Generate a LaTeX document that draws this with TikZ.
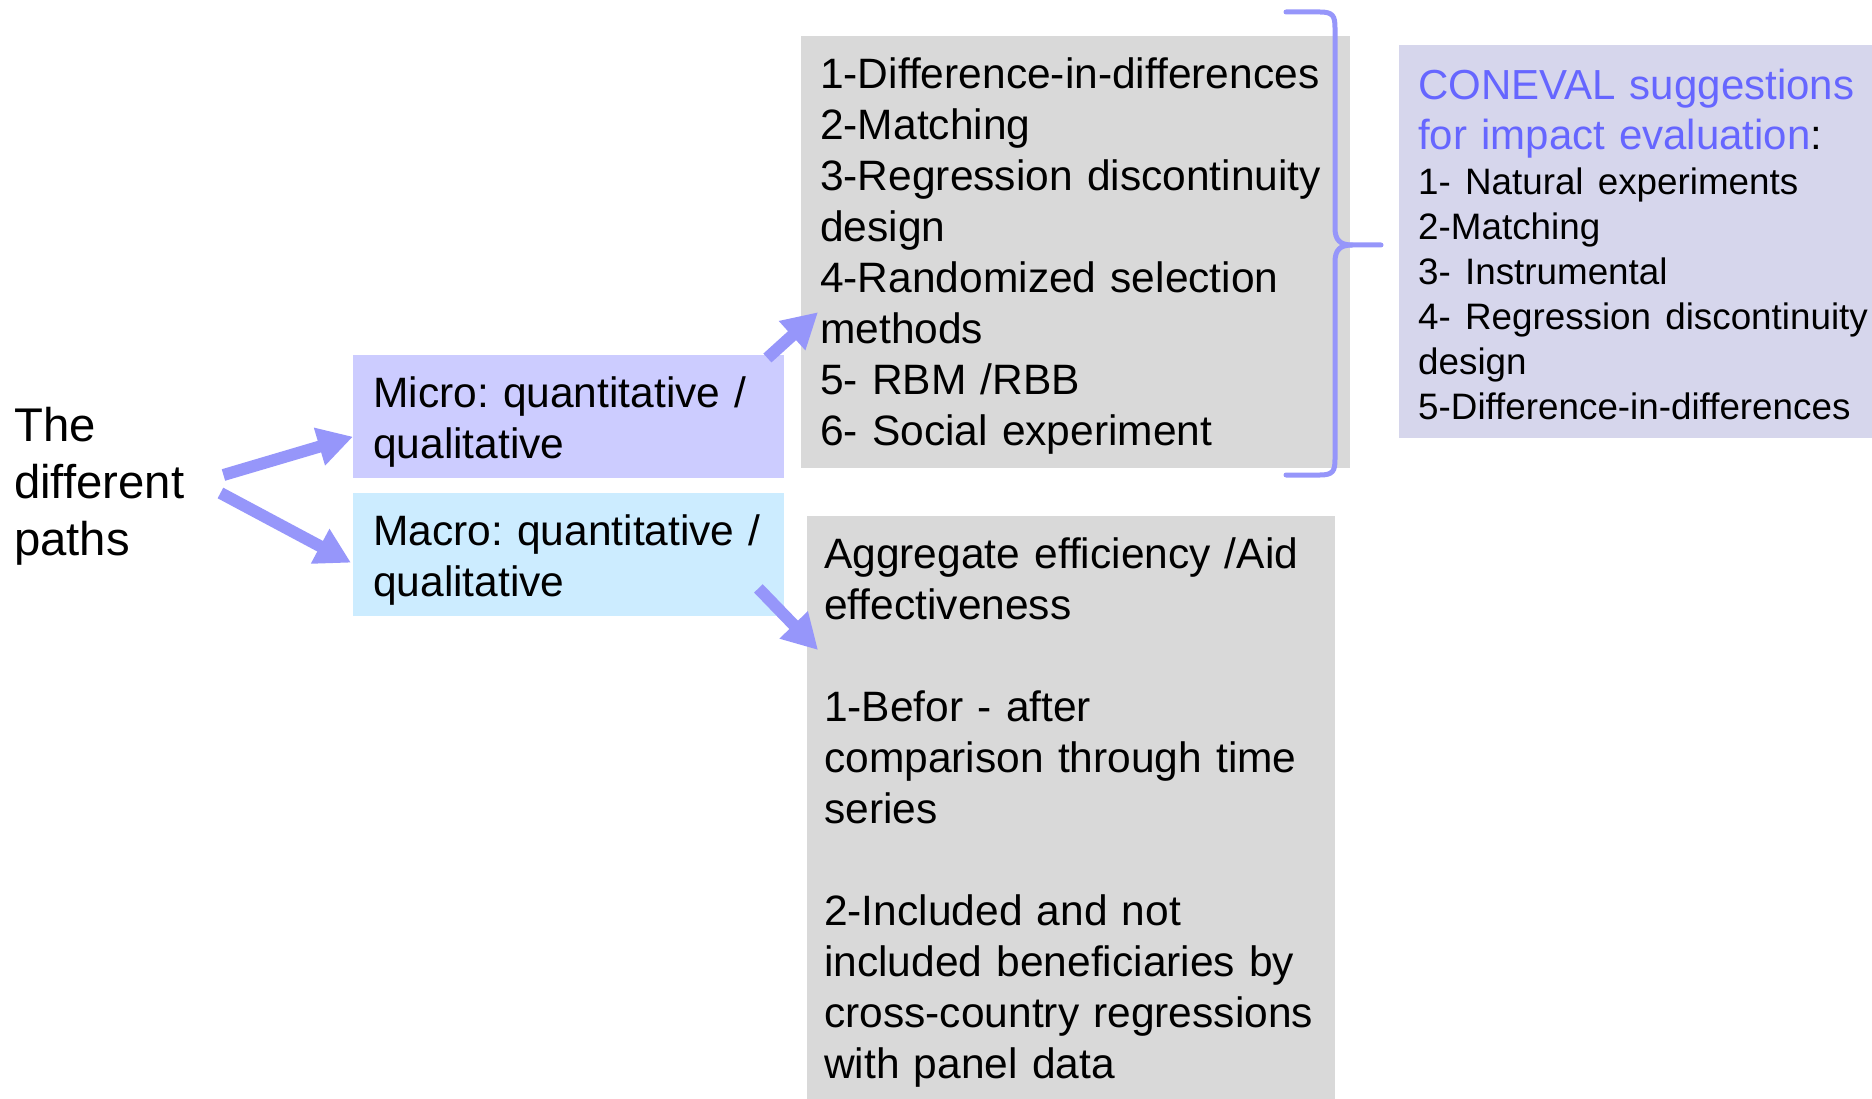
\documentclass[tikz,border=0pt]{standalone}
\usepackage{fontspec}
\setmainfont{Liberation Sans}
\frenchspacing
\usetikzlibrary{arrows.meta,calc}
\definecolor{microfill}{RGB}{204,204,255}
\definecolor{macrofill}{RGB}{204,236,255}
\definecolor{boxgray}{RGB}{217,217,217}
\definecolor{conevalfill}{RGB}{214,214,236}
\definecolor{pathblue}{RGB}{150,150,250}
\definecolor{headblue}{RGB}{102,102,255}
\begin{document}
\begin{tikzpicture}[x=1pt,y=-1pt,
    box/.style={anchor=north west, align=left, inner ysep=0pt,
      text height=52pt, font=\fontsize{42.5}{51}\selectfont},
    fatarrow/.style={draw=pathblue, line width=12pt,
      -{Triangle[length=35pt,width=37pt]}}]
  \useasboundingbox (0,0) rectangle (1872,1099);
  \draw
    (14,486) node[anchor=west, align=left, inner sep=0pt,
      font=\fontsize{47.3}{57}\selectfont] (paths) {The\\different\\paths}
    (353,355) node[box, fill=microfill, text width=391pt, inner xsep=20pt,
      text depth=71pt] (micro) {Micro: quantitative /\\qualitative}
    (353,493) node[box, fill=macrofill, text width=391pt, inner xsep=20pt,
      text depth=71pt] (macro) {Macro: quantitative /\\qualitative}
    (801,36) node[box, fill=boxgray, text width=511pt, inner xsep=19pt,
      text depth=380pt] (meth) {1-Difference-in-differences\\2-Matching\\
      3-Regression discontinuity\\design\\4-Randomized selection\\methods\\
      5- RBM /RBB\\6- Social experiment}
    (807,516) node[box, fill=boxgray, text width=494pt, inner xsep=17pt,
      text depth=531pt] (aggr) {Aggregate efficiency /Aid\\effectiveness\\[51pt]
      1-Befor - after\\comparison through time\\series\\[51pt]
      2-Included and not\\included beneficiaries by\\cross-country regressions\\
      with panel data}
    (1399,45) node[box, fill=conevalfill, text width=470pt, inner xsep=19pt,
      text height=54pt, text depth=339pt] (coneval) {{\fontsize{42}{50}\selectfont
      \textcolor{headblue}{CONEVAL suggestions}\\
      \textcolor{headblue}{for impact evaluation}:\par}
      \fontsize{36.8}{45}\selectfont
      1- Natural experiments\\2-Matching\\3- Instrumental\\
      4- Regression discontinuity\\design\\5-Difference-in-differences\par};
  \begin{scope}[fatarrow]
    \draw ($(paths.east)+(39,-11)$) -- ($(micro.west)+(0,20)$);
    \draw ($(paths.east)+(36,7)$) -- ($(macro.west)+(-2,8)$);
    \draw ($(micro.north east)+(-17,3)$) -- ($(meth.west)+(17,60)$);
    \draw ($(macro.south east)+(-26,-28)$) -- ($(aggr.north west)+(11,134)$);
  \end{scope}
  % brace
  \draw[pathblue, line width=5pt, line cap=round]
    (1286,12) -- (1320,12) .. controls (1333,12) and (1335,16) .. (1335,28)
    -- (1335,228) .. controls (1335,240) and (1340,245) .. (1352,245)
    -- (1381,245);
  \draw[pathblue, line width=5pt, line cap=round]
    (1352,245) .. controls (1340,245) and (1335,250) .. (1335,262)
    -- (1335,459) .. controls (1335,471) and (1333,475) .. (1320,475)
    -- (1286,475);
\end{tikzpicture}
\end{document}
